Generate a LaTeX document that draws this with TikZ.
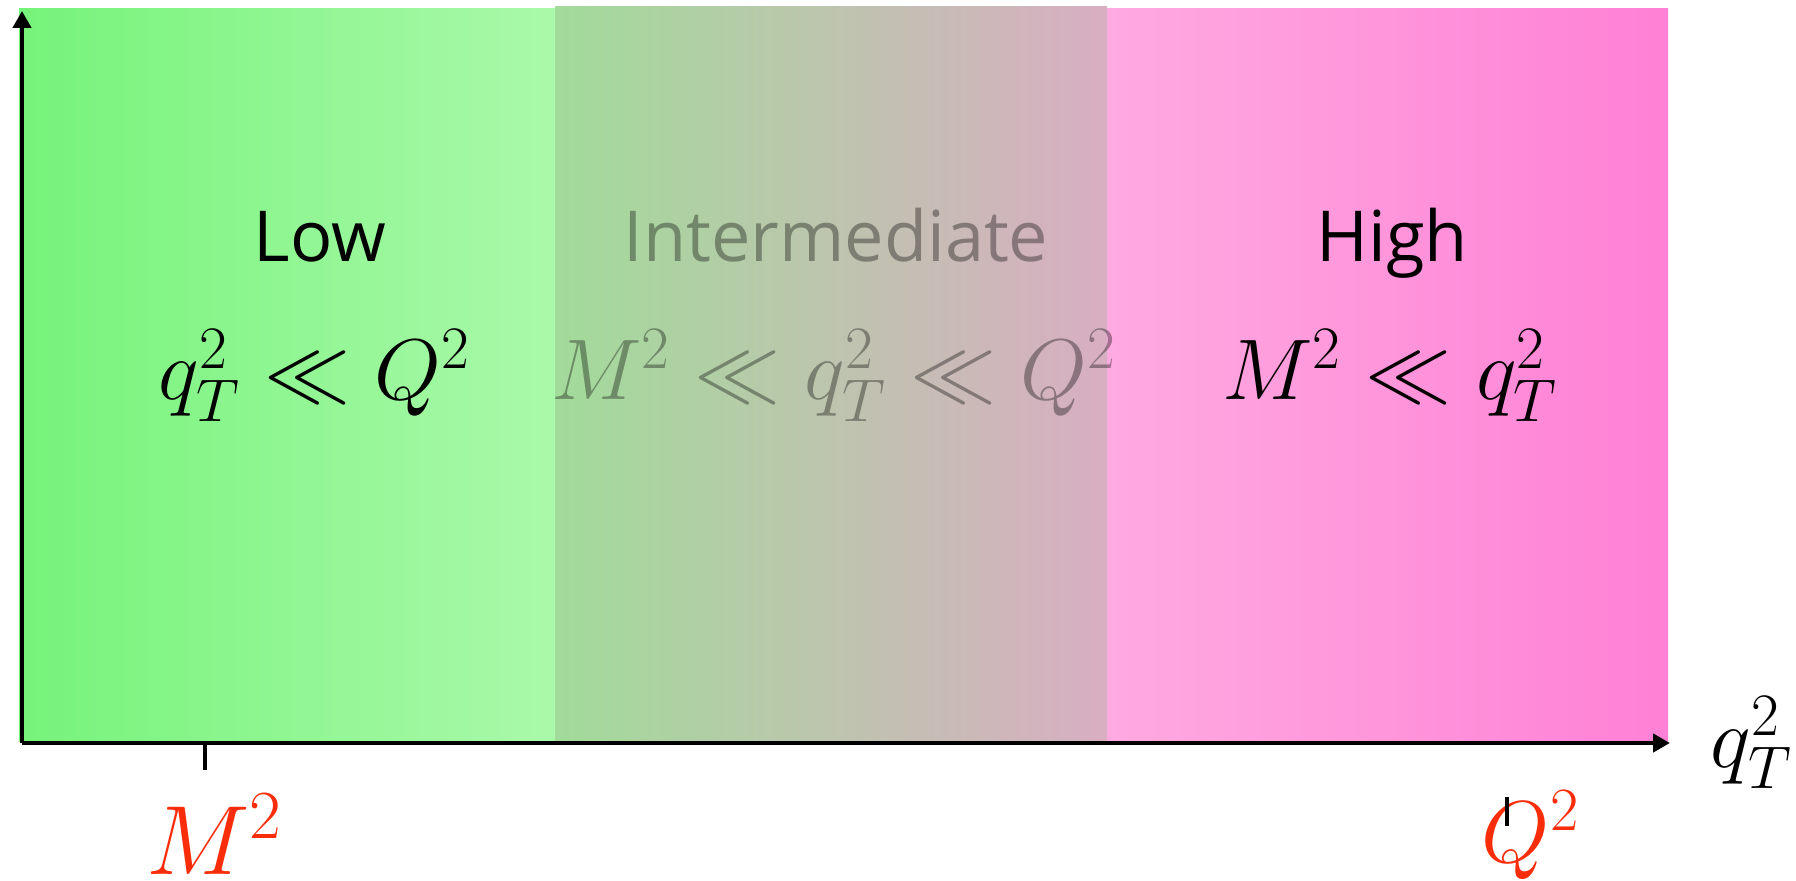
\RequirePackage{fix-cm}
\documentclass[tikz,border=0pt]{standalone}
\usepackage{fontspec}
\setsansfont{Open Sans}
\usepackage{xcolor}
\usetikzlibrary{arrows.meta, positioning}

\definecolor{lowL}{RGB}{118,243,122}
\definecolor{lowR}{RGB}{170,249,170}
\definecolor{midL}{RGB}{162,219,154}
\definecolor{midR}{RGB}{216,174,194}
\definecolor{highL}{RGB}{255,170,224}
\definecolor{highR}{RGB}{255,128,214}
\definecolor{markred}{RGB}{250,45,10}

\begin{document}
\begin{tikzpicture}[
    band/.style={rectangle, inner sep=0pt, minimum height=7.32cm},
    head/.style={font=\sffamily\fontsize{20}{24}\selectfont, inner sep=0pt, anchor=base},
    rel/.style={font=\fontsize{24.5}{29}\selectfont, inner sep=0pt, anchor=base},
    faded/.style={text opacity=0.35},
    scalelbl/.style={text=markred, font=\fontsize{25}{30}\selectfont, inner sep=0pt, anchor=base},
    axis/.style={line width=1.4pt, -{Triangle[width=0.18cm, length=0.17cm]}},
    tickline/.style={line width=1.3pt}
]
\useasboundingbox (0,0) rectangle (17.96,8.80);
%% Regions
\node[band, left color=lowL, right color=lowR, minimum width=5.36cm] (lowband) at (2.87,5.05) {};
\node[band, left color=highL, right color=highR, minimum width=5.61cm] (highband) at (13.875,5.05) {};
\node[band, left color=midL, right color=midR, minimum width=5.52cm, minimum height=7.34cm] (midband) at (8.31,5.06) {};
%% Region labels
\node[head] (lowlbl) at (3.20,6.18) {Low};
\node[head, faded] (midlbl) at (8.36,6.18) {Intermediate};
\node[head] (highlbl) at (13.92,6.18) {High};
\node[rel] (lowrel) at (3.15,4.80) {$q_T^2 \ll Q^2$};
\node[rel, faded] (midrel) at (8.34,4.80) {$M^2 \ll q_T^2 \ll Q^2$};
\node[rel] (highrel) at (13.90,4.80) {$M^2 \ll q_T^2$};
%% Axes
\coordinate (origin) at (0.22,1.37);
\coordinate (ytop) at (0.22,8.69);
\coordinate (xend) at (16.70,1.37);
\draw[axis] (origin) -- (ytop);
\draw[axis] (origin) -- (xend);
\node[rel, anchor=base west] (axlbl) at (17.10,1.13) {$q_T^2$};
%% Scale marks
\coordinate (mtick) at (2.05,1.37);
\draw[tickline] (mtick) -- ++(0,-0.27);
\node[scalelbl, font=\fontsize{28}{33}\selectfont] (mlbl) at (2.145,0.06) {$M^2$};
\node[scalelbl] (qlbl) at (15.31,0.18) {$Q^2$};
\coordinate (qtick) at (15.07,0.83);
\draw[tickline] (qtick) -- ++(0,-0.29);
\end{tikzpicture}
\end{document}
